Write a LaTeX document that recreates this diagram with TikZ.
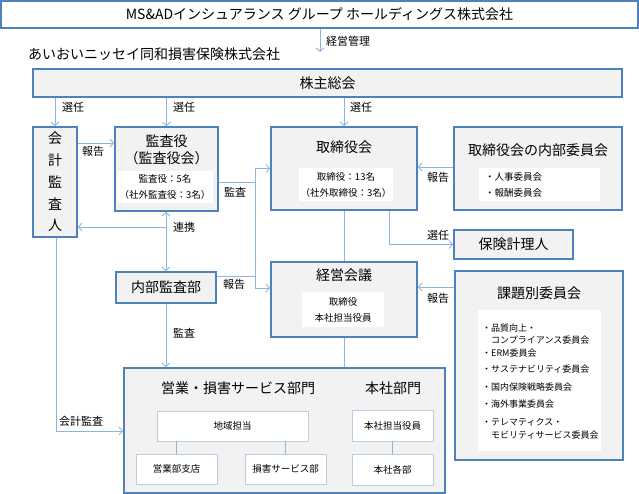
\documentclass[tikz,border=0pt]{standalone}
\usepackage{fontspec}
\setmainfont{Noto Sans CJK JP}
\usetikzlibrary{arrows.meta}
\definecolor{boxblue}{RGB}{79,129,189}
\definecolor{boxgray}{RGB}{242,242,242}
\definecolor{linkblue}{RGB}{141,180,226}
\definecolor{inedge}{RGB}{185,205,229}
\tikzset{
  box/.style={draw=boxblue, line width=1.8pt, fill=boxgray, inner sep=0pt},
  inbox/.style={fill=white, inner sep=0pt},
  subbox/.style={draw=inedge, line width=0.8pt, fill=white, inner sep=0pt,
    minimum width=81pt, minimum height=30pt, font=\fontsize{9.5}{11}\selectfont},
  conn/.style={draw=linkblue, line width=0.9pt},
  arr/.style={conn, -{Straight Barb[length=3.5pt,width=8pt]}},
  twoarr/.style={conn, {Straight Barb[length=3.5pt,width=8pt]}-{Straight Barb[length=3.5pt,width=8pt]}},
  ttl/.style={font=\fontsize{14}{16}\selectfont, inner sep=0pt},
  lbl/.style={font=\fontsize{11}{12}\selectfont, inner sep=0pt},
  sml/.style={font=\fontsize{9.5}{16}\selectfont, inner sep=0pt},
  lst/.style={font=\fontsize{9}{10}\selectfont, inner sep=0pt, anchor=west},
}
\begin{document}
\begin{tikzpicture}[x=1pt, y=-1pt]
\useasboundingbox (0,0) rectangle (639,494);

\node[box, fill=white, minimum width=637pt, minimum height=27pt, ttl] (hd) at (319.5,14.5) {MS\&ADインシュアランス グループ ホールディングス株式会社};
\node[ttl, anchor=west] (co) at (28,54) {あいおいニッセイ同和損害保険株式会社};
\coordinate (kk) at (320,52);
\draw[arr] (hd.south -| kk) -- (kk);
\node[lbl, anchor=west] (kkl) at (326,41) {経営管理};

\node[box, minimum width=589pt, minimum height=28pt, ttl] (sh) at (327.5,83) {株主総会};

% left column
\node[box, minimum width=44pt, minimum height=110pt, align=center, font=\fontsize{14}{21.8}\selectfont] (kai) at (55,182) {会\\計\\監\\査\\人};

\node[box, minimum width=103pt, minimum height=84pt] (kan) at (166.5,169) {};
\node[ttl] (kant) at (166.5,141) {監査役};
\node[ttl] (kant2) at (166.5,158) {（監査役会）};
\node[inbox, sml, minimum width=96pt, minimum height=32pt, align=center] (kani) at (165,187) {監査役：5名\\（社外監査役：3名）};

\node[box, minimum width=100pt, minimum height=31pt, ttl] (naibu) at (166,287.5) {内部監査部};

% middle column
\node[box, minimum width=146pt, minimum height=83pt] (tori) at (344,168.5) {};
\node[ttl] (torit) at (344,147) {取締役会};
\node[inbox, sml, minimum width=94pt, minimum height=33pt, align=center] (torii) at (346,184.5) {取締役：13名\\（社外取締役：3名）};

\node[box, minimum width=146pt, minimum height=75pt] (keiei) at (344,299.5) {};
\node[ttl] (keieit) at (344,275) {経営会議};
\node[inbox, sml, minimum width=82pt, minimum height=35pt, align=center] (keieii) at (343,309.5) {取締役\\本社担当役員};

% right column
\node[box, minimum width=168pt, minimum height=83pt] (iin) at (538,168.5) {};
\node[ttl] (iint) at (538,150) {取締役会の内部委員会};
\node[inbox, sml, minimum width=121pt, minimum height=33pt, text width=109pt, align=left] (iini) at (539.5,184.5) {・人事委員会\\・報酬委員会};

\node[box, minimum width=119pt, minimum height=29pt, ttl] (hoken) at (513.5,244.5) {保険計理人};

\node[box, minimum width=168pt, minimum height=189pt] (kadai) at (539,365.5) {};
\node[ttl] (kadait) at (539,293) {課題別委員会};
\node[inbox, minimum width=123pt, minimum height=141pt] (kadaii) at (539.5,380.5) {};
\foreach \y/\t [count=\i] in {328/・品質向上・, 340/\hspace{1em}コンプライアンス委員会, 353/・ERM委員会,
    369/・サステナビリティ委員会, 387/・国内保険戦略委員会, 404/・海外事業委員会,
    422/・テレマティクス・, 435/\hspace{1em}モビリティサービス委員会}
  \node[lst] (k\i) at (482,\y) {\t};

% departments
\node[box, minimum width=321pt, minimum height=125pt] (bu) at (284.5,430.5) {};
\node[ttl] (but1) at (238,388) {営業・損害サービス部門};
\node[ttl] (but2) at (393,388) {本社部門};
\node[subbox, minimum width=151pt] (chiiki) at (232.5,426) {地域担当};
\node[subbox] (eigyo) at (176.5,469) {営業部支店};
\node[subbox] (songai) at (285.5,469) {損害サービス部};
\node[subbox, minimum height=31pt] (honsha) at (392.5,425.5) {本社担当役員};
\node[subbox, minimum height=31pt] (kakubu) at (392.5,469.5) {本社各部};
\draw[conn] (eigyo.north) -- (eigyo.north |- chiiki.south);
\draw[conn] (songai.north) -- (songai.north |- chiiki.south);
\draw[conn] (honsha) -- (kakubu);

% connectors
\draw[arr] (sh.south -| kai.north) -- (kai.north);
\draw[arr] (sh.south -| kan.north) -- (kan.north);
\draw[arr] (sh.south -| tori.north) -- (tori.north);
\node[lbl] (s1) at (73,107) {選任};
\node[lbl] (s2) at (184,107) {選任};
\node[lbl] (s3) at (361,107) {選任};

\coordinate (hk) at (96,143);
\draw[arr] (kai.east |- hk) -- (kan.west |- hk);
\node[lbl] (hkl) at (93,151) {報告};

\coordinate (rk) at (166,227);
\draw[twoarr] (kan.south -| rk) -- (naibu.north -| rk);
\draw[arr] (rk) -- (kai.east |- rk);
\node[lbl] (rkl) at (184,227) {連携};

\coordinate (ks) at (255,182);
\coordinate (kj) at (255,288);
\coordinate (nh) at (235,276);
\draw[conn] (kan.east |- ks) -- (ks);
\draw[conn] (ks |- tori.west) -- (kj);
\draw[arr] (ks |- tori.west) -- (tori.west);
\draw[arr] (kj) -- (keiei.west |- kj);
\draw[conn] (naibu.east |- nh) -- (kj |- nh);
\node[lbl] (ksl) at (235,192) {監査};
\node[lbl] (nhl) at (234,284) {報告};

\coordinate (ih) at (438,167);
\draw[arr] (iin.west |- ih) -- (tori.east |- ih);
\node[lbl] (ihl) at (438,177) {報告};

\coordinate (sn) at (389,245);
\draw[arr] (tori.south -| sn) |- (hoken.west);
\node[lbl] (snl) at (438,235) {選任};

\draw[conn] (tori) -- (keiei);

\coordinate (kh) at (438,287);
\draw[arr] (kadai.west |- kh) -- (keiei.east |- kh);
\node[lbl] (khl) at (438,298) {報告};

\draw[arr] (naibu.south) -- (naibu.south |- bu.north);
\node[lbl] (nsl) at (184,333) {監査};
\draw[conn] (keiei.south) -- (keiei.south |- bu.north);

\coordinate (ka) at (56,431);
\draw[arr] (kai.south -| ka) |- (bu.west |- ka);
\node[lbl] (kal) at (81,421) {会計監査};

\end{tikzpicture}
\end{document}
